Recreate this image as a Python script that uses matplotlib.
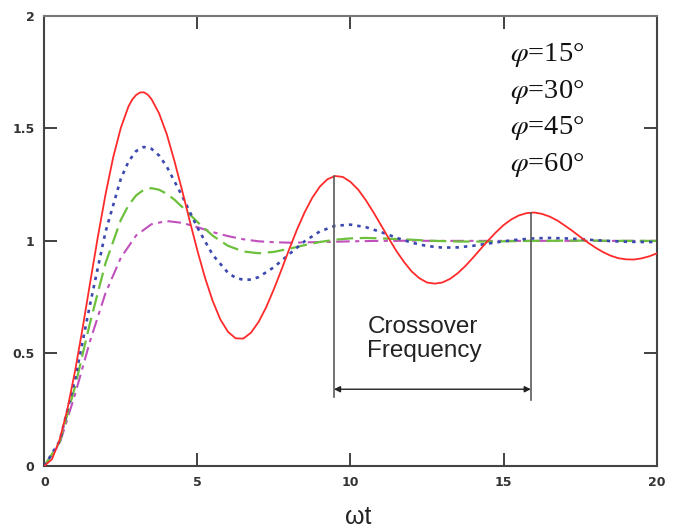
import matplotlib
matplotlib.use("Agg")
import matplotlib.pyplot as plt

plt.rcParams['mathtext.fontset'] = 'stix'

# ---- data ----
t_red = [0, 0.25, 0.5, 0.75, 1.0, 1.25, 1.5, 1.75, 2.0, 2.25, 2.5, 2.75, 2.875, 3.0, 3.125,
         3.25, 3.375, 3.5, 3.75,
         4.0, 4.25, 4.5, 4.75, 5.0, 5.25, 5.5, 5.75, 6.0, 6.25, 6.5, 6.75, 7.0, 7.25, 7.5, 7.75,
         8.0, 8.25, 8.5, 8.75, 9.0, 9.25, 9.5, 9.75, 10.0, 10.25, 10.5, 10.75, 11.0, 11.25,
         11.5, 11.75, 12.0, 12.25, 12.5, 12.75, 13.0, 13.25, 13.5, 13.75, 14.0, 14.25, 14.5,
         14.75, 15.0, 15.25, 15.5, 15.75, 16.0, 16.25, 16.5, 16.75, 17.0, 17.25, 17.5, 17.75,
         18.0, 18.25, 18.5, 18.75, 19.0, 19.25, 19.5, 19.75, 20.0]
y_15 = [0, 0.030, 0.116, 0.249, 0.418, 0.611, 0.816, 1.018, 1.206, 1.371, 1.502, 1.597, 1.628,
        1.648, 1.659, 1.660, 1.650, 1.630, 1.566, 1.474, 1.355, 1.225, 1.089, 0.957, 0.836,
        0.733, 0.651, 0.596, 0.567, 0.566, 0.592, 0.640, 0.706, 0.786, 0.873,
        0.963, 1.049, 1.126, 1.191, 1.241, 1.274, 1.288, 1.284, 1.262, 1.228, 1.181, 1.127,
        1.069, 1.011, 0.955, 0.906, 0.864, 0.834, 0.815, 0.810, 0.815, 0.831, 0.856, 0.888,
        0.925, 0.964, 1.002, 1.038, 1.070, 1.095, 1.113, 1.123, 1.126, 1.120, 1.108, 1.091,
        1.068, 1.044, 1.018, 0.993, 0.970, 0.950, 0.934, 0.923, 0.918, 0.917, 0.922, 0.931,
        0.944]

t_blue = [0, 0.5, 1.0, 1.5, 2.0, 2.5, 2.75, 3.0, 3.25, 3.5, 3.75, 4.0, 4.5, 5.0, 5.5, 6.0, 6.25,
          6.5, 6.75, 7.0, 7.5, 8.0, 8.5, 9.0, 9.5, 10.0, 10.5, 11.0, 11.5, 12.0, 12.5, 13.0,
          13.5, 14.0, 14.5, 15.0, 15.5, 16.0, 16.5, 17.0, 17.5, 18.0, 18.5, 19.0, 19.5, 20.0]
y_30 = [0, 0.110, 0.382, 0.721, 1.040, 1.276, 1.352, 1.399, 1.417, 1.409, 1.379, 1.330, 1.200,
        1.059, 0.938, 0.858, 0.836, 0.827, 0.828, 0.839, 0.883, 0.941, 0.998, 1.042, 1.067,
        1.072, 1.061, 1.039, 1.014, 0.992, 0.977, 0.970, 0.971, 0.978, 0.988, 0.998, 1.006,
        1.011, 1.013, 1.011, 1.008, 1.003, 0.999, 0.996, 0.995, 0.995]

t_green = [0, 0.5, 1.0, 1.5, 2.0, 2.5, 2.75, 3.0, 3.25, 3.5, 3.75, 4.0, 4.25, 4.5, 5.0, 5.5,
           6.0, 6.5, 7.0, 7.5, 8.0, 8.5, 9.0, 9.5, 10.0, 10.5, 11.0, 11.5, 12.0, 12.5, 13.0,
           13.5, 14.0, 14.5, 15.0, 15.5, 16.0, 16.5, 17.0, 17.5, 18.0, 18.5, 19.0, 19.5, 20.0]
y_45 = [0, 0.105, 0.350, 0.639, 0.901, 1.093, 1.158, 1.202, 1.227, 1.234, 1.227, 1.209, 1.183,
        1.151, 1.084, 1.023, 0.978, 0.953, 0.945, 0.951, 0.965, 0.981, 0.995, 1.005, 1.011,
        1.013, 1.011, 1.008, 1.005, 1.001, 0.999, 0.997, 0.997, 0.997, 0.998, 0.999, 1.000,
        1.000, 1.001, 1.001, 1.001, 1.000, 1.000, 1.000, 1.000]

t_magenta = [0, 0.5, 1.0, 1.5, 2.0, 2.5, 3.0, 3.5, 4.0, 4.5, 5.0, 5.5, 6.0, 6.5, 7.0, 7.5,
             8.0, 8.5, 9.0, 9.5, 10.0, 10.5, 11.0, 11.5, 12.0, 12.5, 13.0, 13.5, 14.0, 14.5,
             15.0, 15.5, 16.0, 16.5, 17.0, 17.5, 18.0, 18.5, 19.0, 19.5, 20.0]
y_60 = [0, 0.099, 0.316, 0.557, 0.768, 0.925, 1.024, 1.074, 1.088, 1.080, 1.061, 1.039, 1.021,
        1.007, 0.998, 0.994, 0.992, 0.993, 0.995, 0.996, 0.998, 0.999, 1.000, 1.000, 1.001,
        1.000, 1.000, 1.000, 1.000, 1.000, 1.000, 1.000, 1.000, 1.000, 1.000, 1.000, 1.000,
        1.000, 1.000, 1.000, 1.000]

labels = [r'$\varphi$=15°', r'$\varphi$=30°', r'$\varphi$=45°', r'$\varphi$=60°']
x_ticks = [0, 5, 10, 15, 20]
x_ticklabels = ['0', '5', '10', '15', '20']
y_ticks = [0, 0.5, 1, 1.5, 2]
y_ticklabels = ['0', '0.5', '1', '1.5', '2']

# annotation (crossover period between red peaks)
cross_left, cross_right = 9.46, 15.89
cross_left_top, cross_right_top = 1.29, 1.125
cross_bottom_l, cross_bottom_r = 0.305, 0.293
arrow_y = 0.341

fig = plt.figure(figsize=(6.76, 5.31), dpi=100)
ax = fig.add_axes([0.0655, 0.1224, 0.9059, 0.848])

ax.plot(t_red, y_15, color='#ff2a2a', lw=1.3, solid_joinstyle='round', zorder=4)
ax.plot(t_blue, y_30, color='#3b48b0', lw=1.9, linestyle=(0, (1.3, 1.9)),
        dash_capstyle='butt', zorder=3)
ax.plot(t_green, y_45, color='#6cc03c', lw=1.6, linestyle=(0, (7.5, 3.0)), zorder=2)
ax.plot(t_magenta, y_60, color='#c050bc', lw=1.5, linestyle=(0, (6.5, 2.6, 2.0, 2.6)), zorder=1)

# crossover annotation
ax.plot([cross_left, cross_left], [cross_bottom_l, cross_left_top], color='#5a5a5a', lw=1.2, zorder=5)
ax.plot([cross_right, cross_right], [cross_bottom_r, cross_right_top], color='#5a5a5a', lw=1.2, zorder=5)
ax.annotate('', xy=(cross_left, arrow_y), xytext=(cross_right, arrow_y),
            arrowprops=dict(arrowstyle='<|-|>', color='#222222', lw=1.0,
                            mutation_scale=9, shrinkA=0, shrinkB=0), zorder=6)
ax.text(10.55, 0.566, 'Crossover\nFrequency', fontsize=17.5, family='Liberation Sans',
        color='#222222', ha='left', va='center', linespacing=1.12)

# legend texts
for i, lab in enumerate(labels):
    fig.text(510 / 676, 1 - (61 + 36.7 * i) / 531, lab, fontsize=20.5,
             family='Liberation Serif', color='#111111', ha='left', va='baseline')

ax.set_xlim(0, 20)
ax.set_ylim(0, 2)
ax.set_xticks(x_ticks)
ax.set_xticklabels(x_ticklabels)
ax.set_yticks(y_ticks)
ax.set_yticklabels(y_ticklabels)
ax.tick_params(direction='in', length=9.5, width=1.3, color='#333333',
               top=True, right=True, labelsize=9, labelcolor='#333333', pad=7)
for lab in ax.get_xticklabels() + ax.get_yticklabels():
    lab.set_fontweight('bold')
    lab.set_family('DejaVu Sans')

for side, sp in ax.spines.items():
    sp.set_linewidth(1.5)
    sp.set_color('#444444')
ax.spines['top'].set_color('#777777')

fig.text(358 / 676, 7 / 531, 'ωt', fontsize=18, family='Liberation Sans',
         color='#222222', ha='center', va='baseline')

fig.savefig('out.png', dpi=100)
